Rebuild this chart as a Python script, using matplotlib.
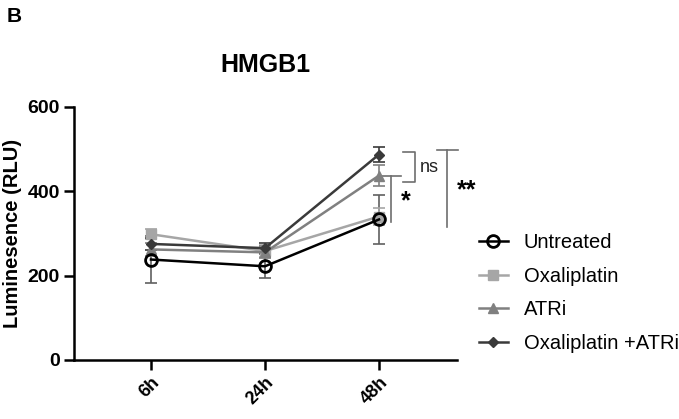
import matplotlib
matplotlib.use("Agg")
import matplotlib.pyplot as plt
from matplotlib.lines import Line2D

plt.rcParams['font.family'] = ['Liberation Sans', 'DejaVu Sans']

timepoints = ["6h", "24h", "48h"]
series_names = ["Untreated", "Oxaliplatin", "ATRi", "Oxaliplatin +ATRi"]
untreated = [238, 222, 333]
untreated_err = [55, 28, 58]
oxaliplatin = [298, 258, 340]
oxaliplatin_err = [12, 15, 20]
atri = [262, 255, 437]
atri_err = [15, 14, 25]
combo = [275, 265, 487]
combo_err = [14, 12, 17]

values = [untreated, oxaliplatin, atri, combo]
errors = [untreated_err, oxaliplatin_err, atri_err, combo_err]
colors = ["#000000", "#a6a6a6", "#808080", "#3a3a3a"]
err_colors = ["#606060", "#a6a6a6", "#808080", "#3a3a3a"]
markers = ["o", "s", "^", "D"]
msizes = [8.5, 7, 7.5, 5.5]

fig = plt.figure(figsize=(6.79, 4.19), dpi=100)
ax = fig.add_axes([0.109, 0.141, 0.564, 0.604])
x = list(range(len(timepoints)))

handles = []
for vals, errs, c, ec, m, ms, name in zip(values, errors, colors, err_colors, markers, msizes, series_names):
    ax.errorbar(x, vals, yerr=errs, fmt='none', ecolor=ec, elinewidth=1.2,
                capsize=4, capthick=1.2, zorder=2)
    if m == "o":
        ax.plot(x, vals, color=c, lw=1.8, marker=m, ms=ms, mfc='none', mew=2, zorder=4)
        h = Line2D([], [], color=c, lw=1.8, marker=m, ms=ms, mfc='none', mew=2)
    else:
        ax.plot(x, vals, color=c, lw=1.8, marker=m, ms=ms, mfc=c, mec=c, zorder=3)
        h = Line2D([], [], color=c, lw=1.8, marker=m, ms=ms, mfc=c, mec=c)
    handles.append(h)

ax.set_xlim(-0.675, 2.684)
ax.set_ylim(0, 600)
ax.set_yticks([0, 200, 400, 600])
ax.set_xticks(x)
ax.set_xticklabels(timepoints, rotation=45, ha='right', rotation_mode='anchor',
                   fontsize=13, fontweight='bold')
for lab in ax.get_yticklabels():
    lab.set_fontsize(14)
    lab.set_fontweight('bold')
ax.tick_params(axis='both', length=7, width=1.8, pad=3)
ax.spines['top'].set_visible(False)
ax.spines['right'].set_visible(False)
for s in ['left', 'bottom']:
    ax.spines[s].set_linewidth(1.8)
ax.set_ylabel("Luminesence (RLU)", fontsize=14.5, fontweight='bold', labelpad=4)
ax.set_title("HMGB1", fontsize=18, fontweight='bold', pad=25)

# significance annotations
br = "#6e6e6e"
ax.plot([2.208, 2.316, 2.316, 2.208], [492, 492, 423, 423], color=br, lw=1.2, clip_on=False)
ax.text(2.36, 457, "ns", fontsize=13, va='center', ha='left', color='#222222')
ax.plot([2.0, 2.193], [437, 437], color=br, lw=1.2, clip_on=False)
ax.plot([2.105, 2.105], [437, 326], color=br, lw=1.2, clip_on=False)
ax.text(2.237, 375, "*", fontsize=18, fontweight='bold', va='center', ha='center')
ax.plot([2.509, 2.693], [497, 497], color=br, lw=1.2, clip_on=False)
ax.plot([2.594, 2.594], [497, 316], color=br, lw=1.2, clip_on=False)
ax.text(2.765, 403, "**", fontsize=18, fontweight='bold', va='center', ha='center')

fig.legend(handles, series_names, loc='upper left', bbox_to_anchor=(0.706, 0.443),
           frameon=False, fontsize=14.5, handlelength=1.4, handletextpad=0.8,
           labelspacing=0.72, borderaxespad=0, borderpad=0)

fig.text(0.01, 0.96, "B", fontsize=15, fontweight='bold', va='center', ha='left')

fig.savefig("out.png", dpi=100)
